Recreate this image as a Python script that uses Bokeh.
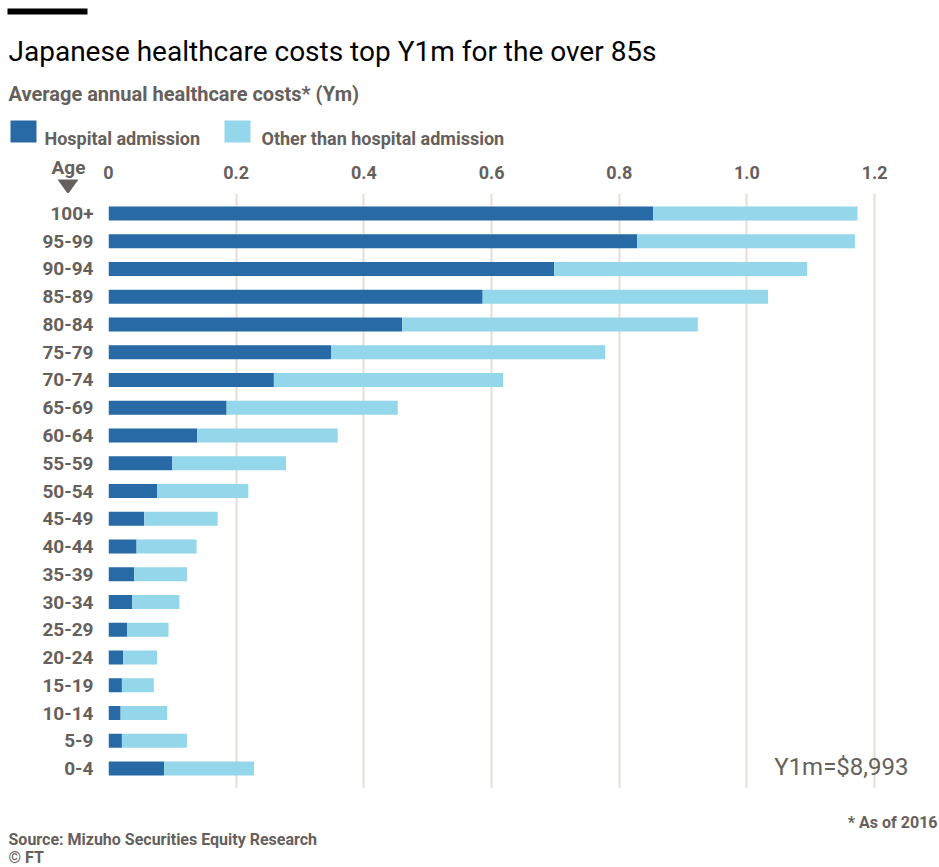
from bokeh.plotting import figure
from bokeh.layouts import column, row
from bokeh.models import (ColumnDataSource, FactorRange, Range1d, Label, PolyAnnotation,
                          FixedTicker, CustomJSTickFormatter, Grid)
from bokeh.embed import file_html
from bokeh.resources import INLINE

# ---- data (Ym) ----
ages = ["0-4", "5-9", "10-14", "15-19", "20-24", "25-29", "30-34", "35-39", "40-44",
        "45-49", "50-54", "55-59", "60-64", "65-69", "70-74", "75-79", "80-84",
        "85-89", "90-94", "95-99", "100+"]
hospital = [0.087, 0.021, 0.019, 0.021, 0.023, 0.029, 0.037, 0.040, 0.044,
            0.056, 0.076, 0.100, 0.139, 0.185, 0.259, 0.349, 0.460,
            0.586, 0.698, 0.828, 0.853]
other = [0.141, 0.102, 0.073, 0.050, 0.053, 0.065, 0.074, 0.083, 0.094,
         0.115, 0.143, 0.178, 0.220, 0.268, 0.359, 0.429, 0.463,
         0.447, 0.396, 0.341, 0.320]
series_names = ["Hospital admission", "Other than hospital admission"]
x_ticks = [0, 0.2, 0.4, 0.6, 0.8, 1.0, 1.2]
x_tick_labels = ["0", "0.2", "0.4", "0.6", "0.8", "1.0", "1.2"]

FONT = "Roboto"
GRAY = "#66605c"
DARK = "#276aa6"
LIGHT = "#94d6ea"
GRID = "#e8ddd3"
SERIES_COLORS = [DARK, LIGHT]
W = 939
CORNER_W = 98


def canvas(w, h, y0, y1):
    """Plain drawing area whose data units are page pixels (y grows downward)."""
    f = figure(width=w, height=h, output_backend="svg", toolbar_location=None,
               x_range=Range1d(0, w), y_range=Range1d(y1, y0),
               x_axis_location=None, y_axis_location=None,
               min_border=0, min_border_left=0, min_border_right=0,
               min_border_top=0, min_border_bottom=0)
    f.grid.visible = False
    f.outline_line_color = None
    if f.title is not None:
        f.title.visible = False
    return f


def text(f, x, y, s, size, color=GRAY, style="bold", align="left"):
    f.add_layout(Label(x=x, y=y, text=s, text_font=FONT, text_font_size=size,
                       text_font_style=style, text_color=color, text_align=align,
                       text_baseline="alphabetic"))


def box(f, x0, x1, y0, y1, color):
    f.add_layout(PolyAnnotation(xs=[x0, x1, x1, x0], ys=[y0, y0, y1, y1],
                                fill_color=color, fill_alpha=1, line_color=None))


# ---------------- header: rule, title, subtitle, key ----------------
top = canvas(W, 155, 0, 155)
box(top, 7, 87, 8, 14, "black")
text(top, 8, 51, "Japanese healthcare costs top Y1m for the over 85s", "28px",
     color="black", style="normal")
text(top, 8, 93, "Average annual healthcare costs* (Ym)", "20px")
for (sx, tx), name, col in zip([(10, 44), (224, 261)], series_names, SERIES_COLORS):
    box(top, sx, sx + 26, 120, 142, col)
    text(top, tx, 138, name, "18px")

# ---------------- "Age" corner ----------------
corner = canvas(CORNER_W, 38, 155, 193)
text(corner, 68, 167, "Age", "19px", align="center")
corner.add_layout(PolyAnnotation(xs=[57, 78, 67.5], ys=[179, 179, 193.5],
                                 fill_color=GRAY, fill_alpha=1, line_color=None))

# ---------------- shared x scale ----------------
x_range = Range1d(0, 1.3015)
formatter = CustomJSTickFormatter(args=dict(tvals=x_ticks, tlabels=x_tick_labels), code="""
    for (let i = 0; i < tvals.length; i++) { if (Math.abs(tvals[i] - tick) < 1e-9) return tlabels[i]; }
    return "";
""")

axis_fig = figure(width=W - CORNER_W, height=38, output_backend="svg", toolbar_location=None,
                  x_range=x_range, y_range=Range1d(0, 1),
                  x_axis_location="above", y_axis_location=None,
                  min_border_left=108 - CORNER_W, min_border_right=0,
                  min_border_top=28, min_border_bottom=0)
axis_fig.grid.visible = False
axis_fig.outline_line_color = None
if axis_fig.title is not None:
    axis_fig.title.visible = False
xa = axis_fig.xaxis[0]
xa.ticker = FixedTicker(ticks=x_ticks)
xa.formatter = formatter
xa.axis_line_color = None
xa.major_tick_line_color = None
xa.minor_tick_line_color = None
xa.major_tick_out = 0
xa.major_tick_in = 0
xa.major_label_standoff = 5
xa.major_label_text_font = FONT
xa.major_label_text_font_size = "18px"
xa.major_label_text_font_style = "bold"
xa.major_label_text_color = GRAY

# ---------------- main bars ----------------
source = ColumnDataSource(dict(age=ages, hospital=hospital, other=other))
p = figure(width=W, height=595, output_backend="svg", toolbar_location=None,
           y_range=FactorRange(factors=ages, range_padding=0.22, range_padding_units="absolute"),
           x_range=x_range, x_axis_location=None,
           min_border_left=108, min_border_right=0, min_border_top=0, min_border_bottom=0)
p.outline_line_color = None
if p.title is not None:
    p.title.visible = False
p.grid.visible = False
p.add_layout(Grid(dimension=0, ticker=FixedTicker(ticks=x_ticks),
                  grid_line_color=GRID, grid_line_width=2))

rs = p.hbar_stack(["hospital", "other"], y="age", height=0.5, color=SERIES_COLORS,
                  line_color=None, source=source)

ya = p.yaxis[0]
ya.axis_line_color = None
ya.major_tick_line_color = None
ya.minor_tick_line_color = None
ya.major_tick_out = 0
ya.major_tick_in = 0
ya.major_label_standoff = 15
ya.major_label_text_font = FONT
ya.major_label_text_font_size = "19px"
ya.major_label_text_font_style = "bold"
ya.major_label_text_color = GRAY

p.add_layout(Label(x=800, y=22, x_units="screen", y_units="screen", text="Y1m=$8,993",
                   text_font=FONT, text_font_size="24px", text_color=GRAY,
                   text_align="right", text_baseline="alphabetic"))

# ---------------- footer ----------------
foot = canvas(W, 79, 788, 867)
text(foot, 937, 822, "* As of 2016", "16px", align="right")
text(foot, 8, 839, "Source: Mizuho Securities Equity Research", "16px")
text(foot, 8, 857, "\u00a9 FT", "16px")

layout = column(row(top), row(column(corner), column(axis_fig)), row(p), row(foot))
open("out.html", "w").write(file_html(layout, INLINE))
